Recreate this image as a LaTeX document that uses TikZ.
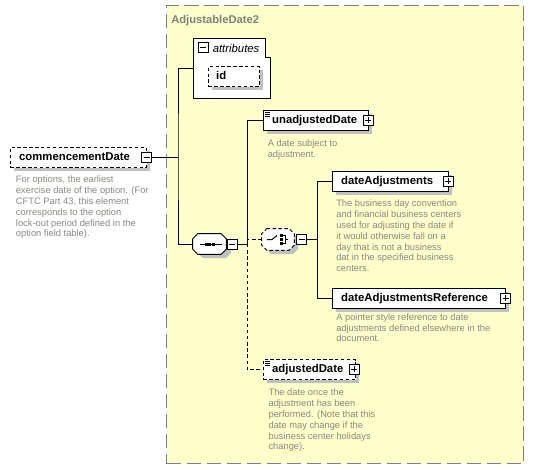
\documentclass[tikz,border=0pt]{standalone}
\usepackage{fontspec}
\setmainfont{Liberation Sans}
\usetikzlibrary{calc}
\definecolor{yel}{HTML}{FFFFCC}
\definecolor{bord}{HTML}{808080}
\definecolor{desc}{HTML}{888880}
\definecolor{shadowgray}{HTML}{C0C0C0}
\newcommand\lblfont{\bfseries\fontsize{8.5}{10}\selectfont}
\newcommand\descfont{\fontsize{7}{8.1}\selectfont}
\newcommand\octpath[2]{($(#1.north west)+(5+#2,#2)$) -- ($(#1.north east)+(-5+#2,#2)$) -- ($(#1.north east)+(#2,5+#2)$) -- ($(#1.south east)+(#2,-5+#2)$) -- ($(#1.south east)+(-5+#2,#2)$) -- ($(#1.south west)+(5+#2,#2)$) -- ($(#1.south west)+(#2,-5+#2)$) -- ($(#1.north west)+(#2,5+#2)$) -- cycle}
\tikzset{
 conn/.style={line width=0.75pt},
 optconn/.style={line width=0.75pt, dash pattern=on 2.6pt off 2pt},
 elem/.style={draw, fill=white, line width=0.75pt, inner sep=0pt, minimum height=15pt, align=left, font=\lblfont, text height=6.2pt, text depth=1.8pt, anchor=north west},
 optelem/.style={elem, dash pattern=on 2.6pt off 1.8pt},
 descr/.style={anchor=north west, inner sep=0pt, align=left, font=\descfont, text=desc},
 pmbox/.style={draw, fill=white, line width=0.75pt, minimum size=7.5pt, inner sep=0pt},
 minusbox/.style={pmbox, path picture={\draw[line width=0.75pt] ($(path picture bounding box.west)+(2,0)$) -- ($(path picture bounding box.east)+(-2,0)$);}},
 plusbox/.style={pmbox, path picture={\draw[line width=0.75pt] ($(path picture bounding box.west)+(2,0)$) -- ($(path picture bounding box.east)+(-2,0)$); \draw[line width=0.75pt] ($(path picture bounding box.north)+(0,2)$) -- ($(path picture bounding box.south)+(0,-2)$);}},
 grpnode/.style={draw=none, minimum height=15pt, inner sep=0pt},
}
\begin{document}
\begin{tikzpicture}[x=0.75pt,y=-0.75pt]
\useasboundingbox (0,0) rectangle (533,469);
% group box
\node[draw=bord, fill=yel, dash pattern=on 11pt off 4pt, line width=1.1pt, minimum width=267.75pt, minimum height=343.5pt, anchor=north west, inner sep=0pt] (grp) at (166,5) {};
\node[anchor=base west, font=\bfseries\fontsize{8.4}{10}\selectfont, text=bord, inner sep=0pt] (title) at (171,23) {AdjustableDate2};

% shadows (drawn first, under the boxes)
\fill[shadowgray] (14,151) rectangle (150,171);
\fill[shadowgray] (267,114) rectangle (372,134);
\fill[shadowgray] (336,175) rectangle (452,195);
\fill[shadowgray] (336,292) rectangle (509,312);
\fill[shadowgray] (267,363) rectangle (359,383);
\fill[shadowgray] (203,238) -- (226,238) -- (231,243) -- (231,253) -- (226,258) -- (203,258) -- (198,253) -- (198,243) -- cycle;
\fill[shadowgray] (271,233) -- (293,233) -- (298,238) -- (298,249) -- (293,254) -- (271,254) -- (266,249) -- (266,238) -- cycle;

% root element
\node[optelem, text width=102pt] (cd) at (10,147) {\hspace*{6.5pt}commencementDate};
\node[minusbox] (cdm) at (146.5,157) {};
\node[descr] (cdd) at (15.7,175.8) {For options, the earliest\\exercise date of the option. (For\\CFTC Part 43, this element\\corresponds to the option\\lock-out period defined in the\\option field table).};
\coordinate (j1) at (178,157);

% attributes
\node[draw=none, minimum width=57.75pt, minimum height=45pt, anchor=north west, inner sep=0pt] (attr) at (193,38) {};
\draw[fill=white, line width=0.75pt] (attr.north west) -- ($(attr.north east)+(-5,0)$) -- ($(attr.north east)+(-5,19)$) -- ($(attr.north east)+(0,19)$) -- (attr.south east) -- (attr.south west) -- cycle;
\node[minusbox] (attrm) at (203,47.5) {};
\node[anchor=west, font=\itshape\fontsize{8.5}{10}\selectfont, inner sep=0pt] (attrt) at (212.5,48) {attributes};
\fill[shadowgray] (212,70) rectangle (263,90);
\node[optelem, text width=38.25pt] (id) at (208,66) {\hspace*{5.8pt}id};

% sequence
\node[grpnode, minimum width=24.75pt] (seq) at (209.5,244) {};
\draw[fill=white, line width=0.75pt] \octpath{seq}{0};
\draw[line width=0.75pt] ($(seq.center)+(-9.5,0)$) -- ($(seq.center)+(12,0)$);
\foreach \dx in {-3.5,0,3.5} \fill ($(seq.center)+(\dx-1.5,-1.5)$) rectangle +(3,3);
\node[minusbox] (seqm) at (232,244) {};
\coordinate (j2) at (247,244);

% choice
\node[grpnode, minimum width=24pt, minimum height=15.75pt] (ch) at (278,239.5) {};
\draw[fill=white, line width=0.75pt, dash pattern=on 2.6pt off 1.8pt] \octpath{ch}{0};
\draw[line width=0.75pt] ($(ch.center)+(-11,0)$) -- ($(ch.center)+(-6,0)$) -- ($(ch.center)+(-1,-4)$);
\foreach \dy in {-4,0,4} \fill ($(ch.center)+(2,\dy-1.25)$) rectangle +(2.5,2.5);
\draw[line width=0.75pt] ($(ch.center)+(4.5,-4)$) -- ($(ch.center)+(7,-4)$) -- ($(ch.center)+(7,4)$) -- ($(ch.center)+(4.5,4)$);
\draw[line width=0.75pt] ($(ch.center)+(7,0)$) -- ($(ch.center)+(10,0)$);
\node[minusbox] (chm) at (301.5,239.5) {};
\coordinate (j3) at (317,239.5);

% children
\node[elem, text width=78.75pt] (ua) at (263,110) {\hspace*{6.5pt}unadjustedDate};
\foreach \k in {0,1,2} \draw[line width=0.5pt] ($(ua.north west)+(2,2.5+2*\k)$) -- +(5,0);
\node[plusbox] (uap) at (368,120) {};
\node[descr] (uad) at (267.5,139.8) {A date subject to\\adjustment.};

\node[elem, text width=87pt] (da) at (332,171) {\hspace*{6.5pt}dateAdjustments};
\node[plusbox] (dap) at (448,181) {};
\node[descr] (dad) at (336,199.8) {The business day convention\\and financial business centers\\used for adjusting the date if\\it would otherwise fall on a\\day that is not a business\\dat in the specified business\\centers.};

\node[elem, text width=129.75pt] (dar) at (332,288) {\hspace*{6.5pt}dateAdjustmentsReference};
\node[plusbox] (darp) at (505.5,298) {};
\node[descr] (dard) at (336,313.2) {A pointer style reference to date\\adjustments defined elsewhere in the\\document.};

\node[optelem, text width=69pt] (ad) at (263,359) {\hspace*{6.5pt}adjustedDate};
\foreach \k in {0,1,2} \draw[line width=0.5pt] ($(ad.north west)+(2,2.5+2*\k)$) -- +(5,0);
\node[plusbox] (adp) at (354,369) {};
\node[descr] (add) at (268.3,388.8) {The date once the\\adjustment has been\\performed. (Note that this\\date may change if the\\business center holidays\\change).};

% connectors
\draw[conn] (cdm.east) -- (j1);
\draw[conn] (attr.west) -| (j1) |- (seq.west);
\draw[conn] (seqm.east) -- (j2);
\draw[conn] (j2) |- (ua.west);
\draw[optconn] (j2) |- (ad.west);
\draw[optconn] (ch.west) -- (ch.west -| j2);
\draw[conn] (chm.east) -- (j3);
\draw[conn] (j3) |- (da.west);
\draw[conn] (j3) |- (dar.west);
\end{tikzpicture}
\end{document}
